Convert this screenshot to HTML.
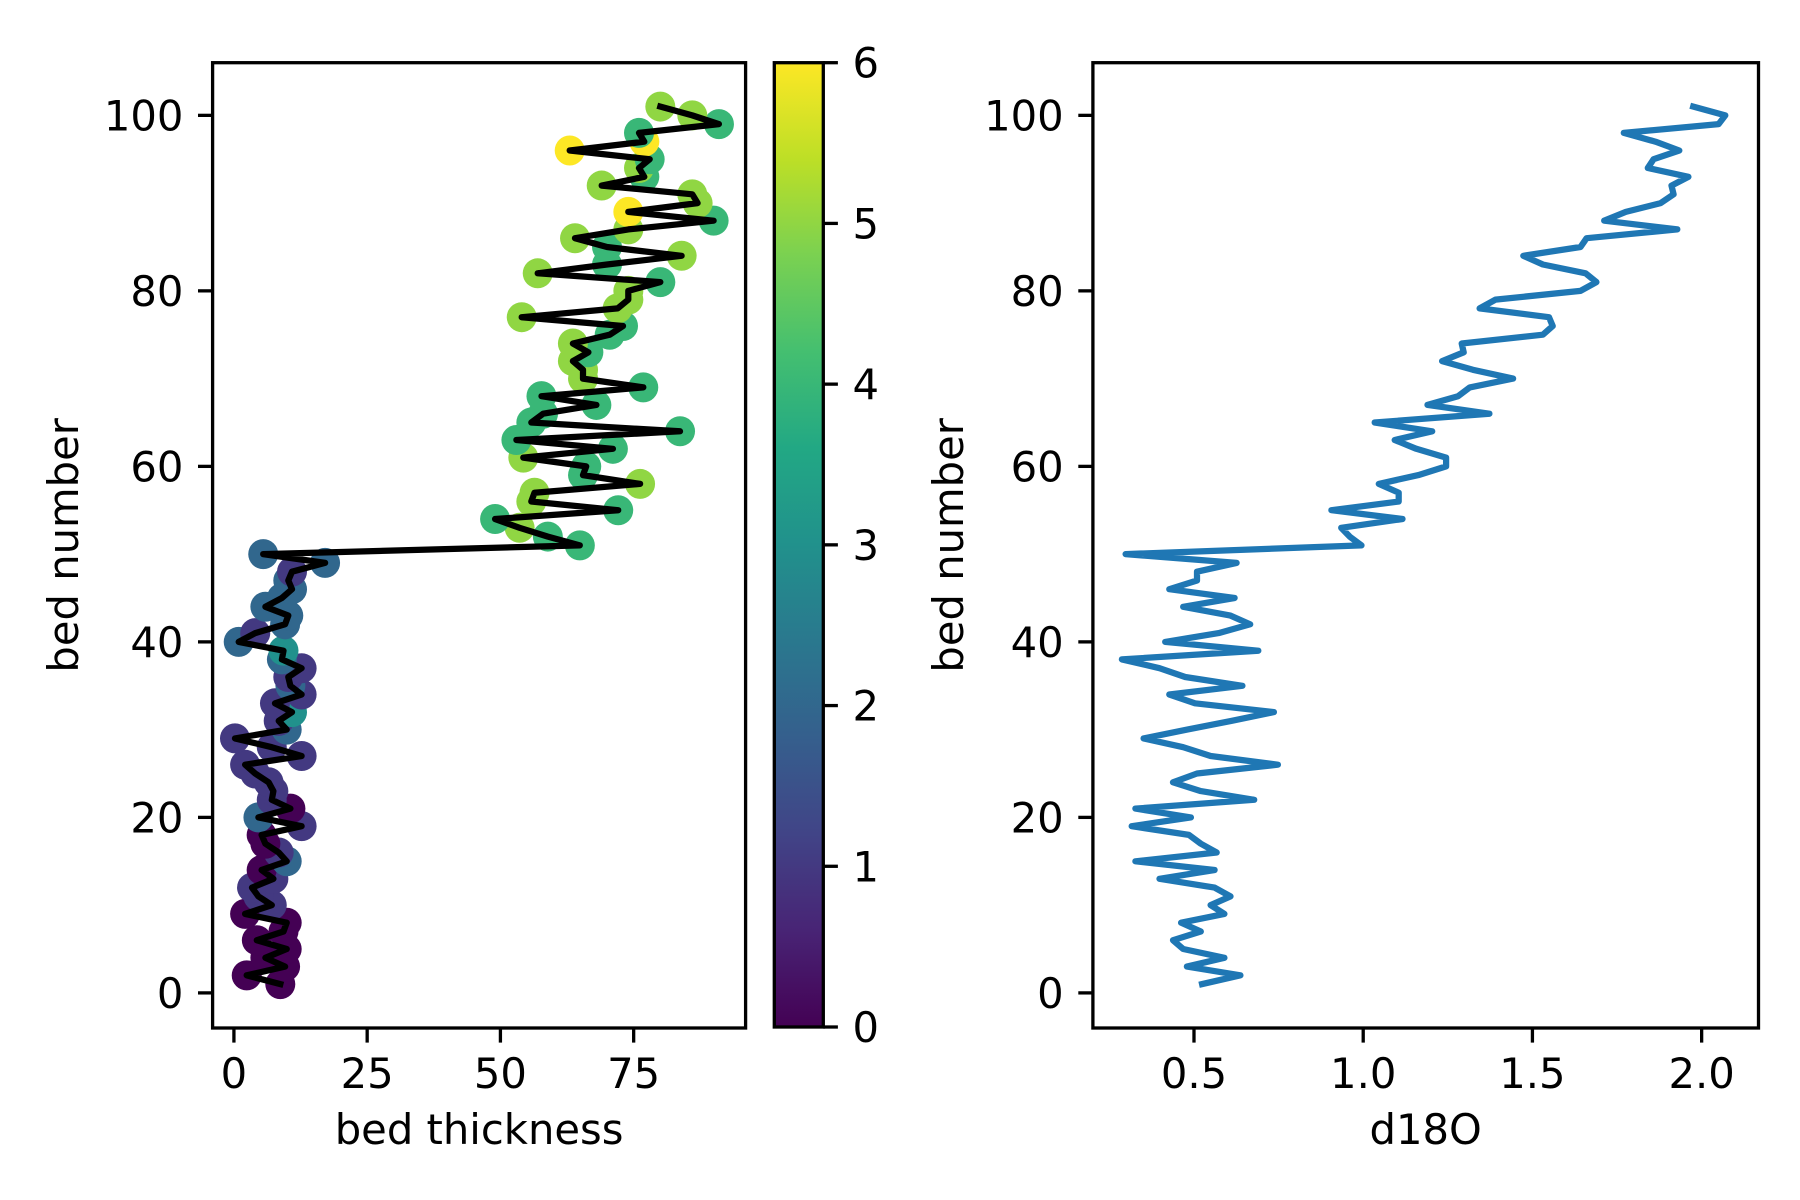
<!DOCTYPE html>
<html><head><meta charset="utf-8"><style>
html,body{margin:0;padding:0;background:#fff;}
svg{display:block;font-family:"DejaVu Sans","Liberation Sans",sans-serif;}
</style></head><body>
<svg id="fig" width="1800" height="1200" viewBox="0 0 1800 1200" xmlns="http://www.w3.org/2000/svg">
<defs>
<linearGradient id="viridis" x1="0" y1="1" x2="0" y2="0">
<stop offset="0" stop-color="#440154"/><stop offset="0.1" stop-color="#482475"/>
<stop offset="0.2" stop-color="#414487"/><stop offset="0.3" stop-color="#355f8d"/>
<stop offset="0.4" stop-color="#2a788e"/><stop offset="0.5" stop-color="#21918c"/>
<stop offset="0.6" stop-color="#22a884"/><stop offset="0.7" stop-color="#44bf70"/>
<stop offset="0.8" stop-color="#7ad151"/><stop offset="0.9" stop-color="#bddf26"/>
<stop offset="1" stop-color="#fde725"/>
</linearGradient>
</defs>
<g id="left"></g>
<g id="cbar"></g>
<g id="right"></g>
</svg>
<script>
const beds = Array.from({length:101},(_, i)=>i+1);
const thickness = [8.7,2.4,9.6,5.9,9.9,4.3,9.3,9.9,2.1,7.1,4.6,3.4,7.4,5.2,9.9,8.4,5.9,5.2,12.7,4.6,10.6,7.1,7.4,6.5,4.0,2.1,12.7,7.1,0.2,9.9,8.4,10.9,7.7,12.7,10.6,10.2,12.7,9.0,9.3,0.9,4.0,9.6,10.2,5.9,9.0,10.9,10.2,10.9,17.1,5.5,
64.9,58.9,53.6,49.0,72.1,55.8,56.4,76.2,65.5,66.1,54.3,71.1,53.0,83.7,55.8,58.0,68.0,57.7,76.8,65.5,65.5,63.6,66.5,63.6,70.5,73.0,54.0,72.0,74.0,74.0,80.0,57.0,70.0,84.0,70.0,64.0,74.0,90.0,74.0,87.0,86.0,69.0,77.0,76.0,78.0,63.0,77.0,76.0,91.0,86.0,80.0];
const colorVals = [0,0,0,0,0,0,0,0,0,1,1,1,1,0,2,1,0,0,1,2,0,1,1,1,1,1,1,1,1,2,1,3,1,1,2,1,1,2,3,2,1,2,2,2,2,2,2,1,2,2,
4,4,5,4,4,5,5,5,4,4,5,4,4,4,4,4,4,4,4,5,5,5,4,5,4,4,5,5,5,5,4,5,4,5,4,5,5,4,6,5,5,5,4,5,4,6,6,4,4,5,5];
const d18O = [0.524,0.637,0.479,0.59,0.468,0.438,0.52,0.462,0.59,0.549,0.608,0.561,0.398,0.561,0.327,0.567,0.52,0.485,0.316,0.491,0.327,0.678,0.52,0.438,0.509,0.748,0.549,0.468,0.351,0.48,0.61,0.736,0.503,0.427,0.643,0.474,0.398,0.287,0.69,0.415,0.573,0.666,0.608,0.468,0.62,0.427,0.509,0.509,0.626,0.298,
0.995,0.96,0.935,1.116,0.906,1.105,1.105,1.046,1.163,1.245,1.245,1.157,1.093,1.204,1.034,1.373,1.19,1.28,1.315,1.443,1.324,1.233,1.297,1.291,1.531,1.56,1.549,1.344,1.391,1.642,1.689,1.657,1.531,1.473,1.642,1.66,1.928,1.712,1.776,1.879,1.917,1.911,1.961,1.841,1.858,1.934,1.864,1.77,2.05,2.07,1.975];
const yTicks = [0,20,40,60,80,100];
const xTicksL = [0,25,50,75];
const xTicksR = [0.5,1.0,1.5,2.0];
const cTicks = [0,1,2,3,4,5,6];

const NS="http://www.w3.org/2000/svg";
function mk(parent,tag,attrs,text){const e=document.createElementNS(NS,tag);for(const k in attrs)e.setAttribute(k,attrs[k]);if(text!==undefined)e.textContent=text;parent.appendChild(e);return e;}
const viridisStops=["#440154","#482475","#414487","#355f8d","#2a788e","#21918c","#22a884","#44bf70","#7ad151","#bddf26","#fde725"];
function hex(c){return [parseInt(c.slice(1,3),16),parseInt(c.slice(3,5),16),parseInt(c.slice(5,7),16)];}
function viridis(t){t=Math.max(0,Math.min(1,t));const p=t*10,i=Math.min(9,Math.floor(p)),f=p-i;const a=hex(viridisStops[i]),b=hex(viridisStops[i+1]);return "rgb("+a.map((v,k)=>Math.round(v+(b[k]-v)*f)).join(",")+")";}

const yTop=62.7,yBot=1028,yMin=-4,yMax=106;
const yS=v=>yBot-(v-yMin)/(yMax-yMin)*(yBot-yTop);
const L={x0:212.6,x1:745.6,min:-4,max:96};
const xL=v=>L.x0+(v-L.min)/(L.max-L.min)*(L.x1-L.x0);
const R={x0:1092.9,x1:1758.5,min:0.2013,max:2.168};
const xR=v=>R.x0+(v-R.min)/(R.max-R.min)*(R.x1-R.x0);
const TL=14.6, FS=41.7;

function yAxis(g,x0){
  yTicks.forEach(v=>{
    const y=yS(v);
    const t=mk(g,'line',{x1:x0,x2:x0-TL,y1:y,y2:y,stroke:'#000','stroke-width':3.3});
    
    
    const l=mk(g,'text',{x:x0-TL-14.6,y:y+15,'font-size':FS,'text-anchor':'end'},String(v));
    
    
  });
}
function xAxis(g,ticks,fx,fmt){
  ticks.forEach(v=>{
    const x=fx(v);
    const t=mk(g,'line',{x1:x,x2:x,y1:yBot,y2:yBot+TL,stroke:'#000','stroke-width':3.3});
    
    
    const l=mk(g,'text',{x:x,y:yBot+TL+14.6+31,'font-size':FS,'text-anchor':'middle'},fmt(v));
    
    
  });
}

// LEFT
const gl=document.getElementById('left');
beds.forEach((b,i)=>{
  const c=mk(gl,'circle',{cx:xL(thickness[i]),cy:yS(b),r:15,fill:viridis(colorVals[i]/6)});
  
  
});
const lp=mk(gl,'polyline',{points:beds.map((b,i)=>xL(thickness[i]).toFixed(1)+','+yS(b).toFixed(1)).join(' '),fill:'none',stroke:'#000','stroke-width':6.25,'stroke-linejoin':'round','stroke-linecap':'square'});


const lf=mk(gl,'rect',{x:L.x0,y:yTop,width:L.x1-L.x0,height:yBot-yTop,fill:'none',stroke:'#000','stroke-width':3.3});


yAxis(gl,L.x0);
xAxis(gl,xTicksL,xL,v=>String(v));
const xl1=mk(gl,'text',{x:(L.x0+L.x1)/2,y:1144,'font-size':FS,'text-anchor':'middle'},'bed thickness');


const yl1=mk(gl,'text',{x:0,y:0,'font-size':FS,'text-anchor':'middle',transform:'translate(78,'+((yTop+yBot)/2)+') rotate(-90)'},'bed number');



// COLORBAR
const gc=document.getElementById('cbar');
const cb={x0:774.3,x1:823.3,y0:62.7,y1:1027};
const cbr=mk(gc,'rect',{x:cb.x0,y:cb.y0,width:cb.x1-cb.x0,height:cb.y1-cb.y0,fill:'url(#viridis)',stroke:'#000','stroke-width':3.3});


cTicks.forEach(v=>{
  const y=cb.y1-v/6*(cb.y1-cb.y0);
  const t=mk(gc,'line',{x1:cb.x1,x2:cb.x1+TL,y1:y,y2:y,stroke:'#000','stroke-width':3.3});
  
  
  const l=mk(gc,'text',{x:cb.x1+TL+14.6,y:y+15,'font-size':FS},String(v));
  
  
});

// RIGHT
const gr=document.getElementById('right');
const rp=mk(gr,'polyline',{points:beds.map((b,i)=>xR(d18O[i]).toFixed(1)+','+yS(b).toFixed(1)).join(' '),fill:'none',stroke:'#1f77b4','stroke-width':6.25,'stroke-linejoin':'round','stroke-linecap':'square'});


const rf=mk(gr,'rect',{x:R.x0,y:yTop,width:R.x1-R.x0,height:yBot-yTop,fill:'none',stroke:'#000','stroke-width':3.3});


yAxis(gr,R.x0);
xAxis(gr,xTicksR,xR,v=>v.toFixed(1));
const xl2=mk(gr,'text',{x:(R.x0+R.x1)/2,y:1144,'font-size':FS,'text-anchor':'middle'},'d18O');


const yl2=mk(gr,'text',{x:0,y:0,'font-size':FS,'text-anchor':'middle',transform:'translate(963,'+((yTop+yBot)/2)+') rotate(-90)'},'bed number');


</script>
</body></html>
